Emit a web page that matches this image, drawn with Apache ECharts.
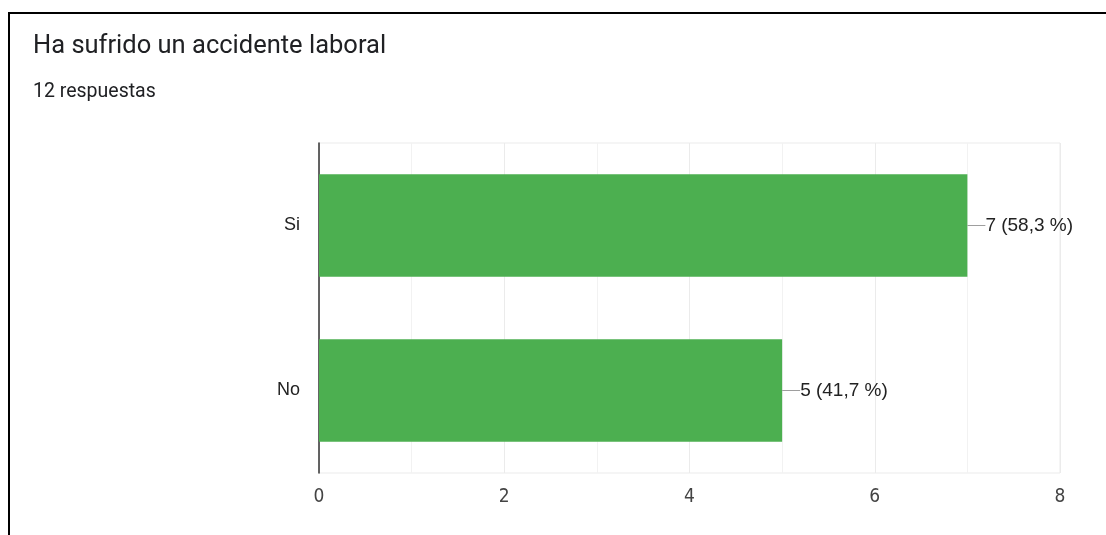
<!DOCTYPE html>
<html>
<head>
<meta charset="utf-8">
<script src="https://cdn.jsdelivr.net/npm/echarts@6/dist/echarts.min.js"></script>
<style>
html,body{margin:0;padding:0;background:#fff;}
#c{width:1106px;height:535px;}
</style>
</head>
<body>
<div id="c"></div>
<script>
const titleText = 'Ha sufrido un accidente laboral';
const subText = '12 respuestas';
const categories = ['No', 'Si'];
const values = [5, 7];
const labels = ['5 (41,7 %)', '7 (58,3 %)'];

const sans = "'Liberation Sans', Arial, sans-serif";
const chart = echarts.init(document.getElementById('c'), null, {renderer: 'canvas'});
chart.setOption({
  animation: false,
  backgroundColor: '#fff',
  title: [
    {text: titleText, left: 33, top: 34, padding: 0, textStyle: {fontFamily: 'Roboto', fontSize: 25.5, fontWeight: 'normal', color: '#202124'}},
    {text: subText, left: 33, top: 82, padding: 0, textStyle: {fontFamily: 'Roboto', fontSize: 19.5, fontWeight: 'normal', color: '#202124'}}
  ],
  graphic: [
    {type: 'line', shape: {x1: 8, y1: 13, x2: 1106, y2: 13}, style: {stroke: '#000', lineWidth: 2}},
    {type: 'line', shape: {x1: 9, y1: 12, x2: 9, y2: 535}, style: {stroke: '#000', lineWidth: 2}}
  ],
  grid: {left: 319, right: 46, top: 143, bottom: 62, show: true, borderColor: '#ebebeb', borderWidth: 1},
  xAxis: {
    type: 'value', min: 0, max: 8, interval: 2,
    axisLine: {show: false}, axisTick: {show: false},
    axisLabel: {fontFamily: "'Liberation Sans Narrow', 'DejaVu Sans Condensed', " + sans, fontSize: 19, color: '#444', margin: 15},
    splitLine: {show: true, lineStyle: {color: '#ebebeb', width: 1}},
    minorTick: {show: false, splitNumber: 2},
    minorSplitLine: {show: true, lineStyle: {color: '#f2f2f2', width: 1}}
  },
  yAxis: {
    type: 'category', data: categories,
    axisLine: {show: true, lineStyle: {color: '#333', width: 1.5}},
    axisTick: {show: false},
    axisLabel: {fontFamily: sans, fontSize: 18, color: '#222', margin: 19},
    splitLine: {show: false}
  },
  series: [{
    type: 'bar',
    data: values,
    barWidth: '62%',
    itemStyle: {color: '#4caf50'},
    label: {
      show: true, position: 'right', distance: 0,
      formatter: function (p) { return '{l|}{t|' + labels[p.dataIndex] + '}'; },
      rich: {
        l: {width: 18, height: 1, backgroundColor: '#9e9e9e'},
        t: {fontFamily: sans, fontSize: 19, color: '#222'}
      }
    }
  }]
});
</script>
</body>
</html>
